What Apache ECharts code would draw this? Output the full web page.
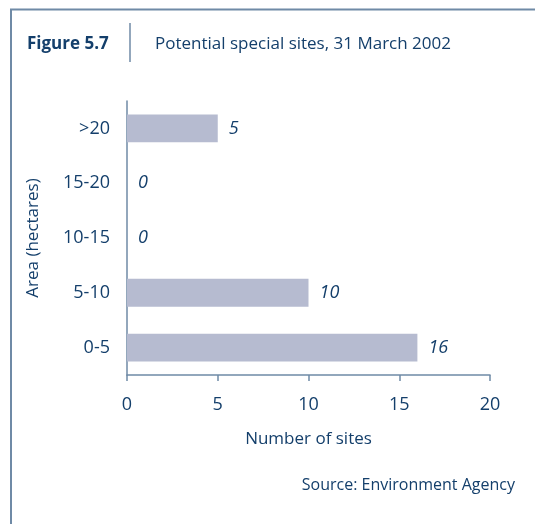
<!DOCTYPE html>
<html>
<head>
<meta charset="utf-8">
<script src="https://cdn.jsdelivr.net/npm/echarts@6/dist/echarts.min.js"></script>
<style>
  html, body { margin: 0; padding: 0; background: #fff; }
  #chart { width: 535px; height: 524px; }
</style>
</head>
<body>
<div id="chart"></div>
<script>
const categories = ["0-5", "5-10", "10-15", "15-20", ">20"];
const siteCounts = [16, 10, 0, 0, 5];
const xTicks = [0, 5, 10, 15, 20];

const ink = "#143f6b";
const frame = "#6f8aa6";
const font = "'Open Sans', 'Noto Sans', sans-serif";

const chart = echarts.init(document.getElementById("chart"), null, { renderer: "canvas" });

chart.setOption({
  animation: false,
  grid: { left: 127, right: 45, top: 101, bottom: 149 },
  xAxis: {
    type: "value",
    min: xTicks[0],
    max: xTicks[xTicks.length - 1],
    interval: 5,
    name: "Number of sites",
    nameLocation: "middle",
    nameGap: 56,
    nameTextStyle: { color: ink, fontFamily: font, fontSize: 17 },
    axisLine: { show: true, lineStyle: { color: frame, width: 1.5 } },
    axisTick: { show: true, length: 6, lineStyle: { color: frame, width: 1.5 } },
    axisLabel: { color: ink, fontFamily: font, fontSize: 18, margin: 21 },
    splitLine: { show: false },
  },
  yAxis: {
    type: "category",
    data: categories,
    name: "Area (hectares)",
    nameLocation: "middle",
    nameGap: 85,
    nameRotate: 90,
    nameTextStyle: { color: ink, fontFamily: font, fontSize: 17 },
    axisLine: { show: true, lineStyle: { color: frame, width: 1.5 } },
    axisTick: { show: false },
    axisLabel: { color: ink, fontFamily: font, fontSize: 18, margin: 17 },
  },
  series: [
    {
      type: "bar",
      data: siteCounts,
      barWidth: "51%",
      itemStyle: { color: "#b6bbd0" },
      label: {
        show: true,
        position: "right",
        distance: 11,
        color: ink,
        fontFamily: font,
        fontSize: 18,
        fontStyle: "italic",
      },
    },
  ],
  graphic: [
    {
      type: "polyline",
      shape: { points: [[11, 524], [11, 9.5], [535, 9.5]] },
      style: { stroke: frame, lineWidth: 2, fill: null },
    },
    {
      type: "line",
      shape: { x1: 130, y1: 23, x2: 130, y2: 62 },
      style: { stroke: frame, lineWidth: 1.5 },
    },
    {
      type: "text",
      left: 27,
      top: 36,
      style: { text: "Figure 5.7", fill: ink, font: "bold 17px " + font },
    },
    {
      type: "text",
      left: 155,
      top: 36,
      style: { text: "Potential special sites, 31 March 2002", fill: ink, font: "17px " + font },
    },
    {
      type: "text",
      right: 20,
      top: 477,
      style: { text: "Source: Environment Agency", fill: ink, font: "16px " + font },
    },
  ],
});
</script>
</body>
</html>
